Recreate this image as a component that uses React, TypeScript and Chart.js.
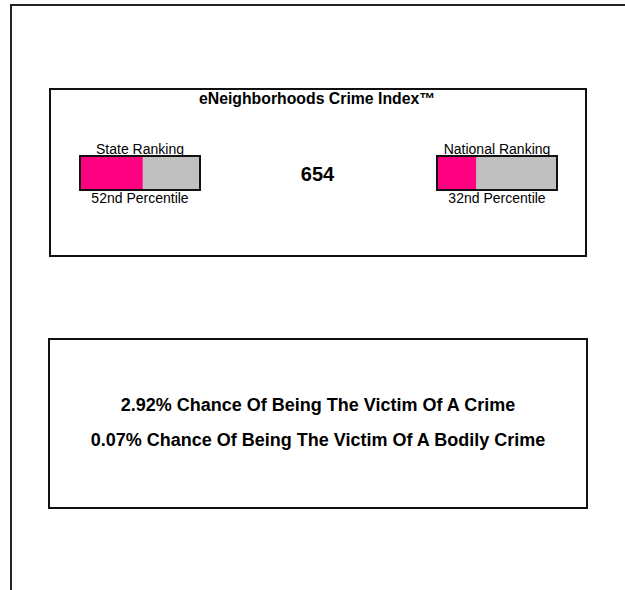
import React, { useEffect, useRef } from "react";
import { Chart, registerables } from "chart.js";

Chart.register(...registerables);

// ---- data ----
const TITLE = "eNeighborhoods Crime Index™";
const CRIME_INDEX = 654;
const rankingLabels = ["State Ranking", "National Ranking"];
const percentiles = [52, 32];
const percentileLabels = ["52nd Percentile", "32nd Percentile"];
const chanceValues = [2.92, 0.07];
const chanceLabels = [
  "Chance Of Being The Victim Of A Crime",
  "Chance Of Being The Victim Of A Bodily Crime",
];

const PINK = "#FF0080";
const GREY = "#C0C0C0";
const FONT = '"Liberation Sans", Arial, Helvetica, sans-serif';

function Label(props: {
  text: string;
  cx: number;
  baseline: number;
  size: number;
  bold?: boolean;
}) {
  const { text, cx, baseline, size, bold } = props;
  return (
    <div
      style={{
        position: "absolute",
        left: cx - 300,
        width: 600,
        top: baseline - 0.8465 * size,
        fontSize: size,
        lineHeight: size + "px",
        fontWeight: bold ? "bold" : "normal",
        textAlign: "center",
        whiteSpace: "nowrap",
        color: "#000",
      }}
    >
      {text}
    </div>
  );
}

function RankBar(props: { value: number; label: string; left: number; top: number }) {
  const ref = useRef<HTMLCanvasElement | null>(null);
  useEffect(() => {
    if (!ref.current) return;
    const chart = new Chart(ref.current, {
      type: "bar",
      data: {
        labels: [props.label],
        datasets: [
          { data: [props.value], backgroundColor: PINK, borderWidth: 0 },
          { data: [100 - props.value], backgroundColor: GREY, borderWidth: 0 },
        ],
      },
      options: {
        indexAxis: "y",
        responsive: false,
        animation: false,
        events: [],
        layout: { padding: 0 },
        datasets: { bar: { barPercentage: 1, categoryPercentage: 1 } },
        plugins: { legend: { display: false }, tooltip: { enabled: false } },
        scales: {
          x: { stacked: true, min: 0, max: 100, display: false },
          y: { stacked: true, display: false },
        },
      },
    });
    return () => chart.destroy();
  }, [props.value, props.label]);
  return (
    <div
      style={{
        position: "absolute",
        left: props.left,
        top: props.top,
        border: "2px solid #111",
        width: 118,
        height: 32,
      }}
    >
      <canvas ref={ref} width={118} height={32} style={{ display: "block" }} />
    </div>
  );
}

export default function App() {
  const barCx = [140, 497];
  const barLeft = [79, 436];
  return (
    <div
      style={{
        position: "absolute",
        left: 0,
        top: 0,
        width: 625,
        height: 590,
        overflow: "hidden",
        background: "#fff",
        fontFamily: FONT,
      }}
    >
      {/* outer frame */}
      <div
        style={{
          position: "absolute",
          left: 10,
          top: 4,
          width: 800,
          height: 800,
          border: "2px solid #222",
        }}
      />
      {/* box 1 */}
      <div
        style={{
          position: "absolute",
          left: 49,
          top: 88,
          width: 538,
          height: 169,
          boxSizing: "border-box",
          border: "2px solid #111",
        }}
      />
      <Label text={TITLE} cx={317} baseline={104.7} size={15.8} bold />
      <Label text={String(CRIME_INDEX)} cx={317.5} baseline={181} size={20} bold />
      {percentiles.map((p, i) => (
        <React.Fragment key={i}>
          <Label text={rankingLabels[i]} cx={barCx[i]} baseline={154} size={14} />
          <RankBar value={p} label={rankingLabels[i]} left={barLeft[i]} top={155} />
          <Label text={percentileLabels[i]} cx={barCx[i]} baseline={203.3} size={14} />
        </React.Fragment>
      ))}
      {/* box 2 */}
      <div
        style={{
          position: "absolute",
          left: 48,
          top: 338,
          width: 540,
          height: 171,
          boxSizing: "border-box",
          border: "2px solid #111",
        }}
      />
      {chanceValues.map((v, i) => (
        <Label
          key={i}
          text={v.toFixed(2) + "% " + chanceLabels[i]}
          cx={318}
          baseline={411.7 + i * 35}
          size={18}
          bold
        />
      ))}
    </div>
  );
}
